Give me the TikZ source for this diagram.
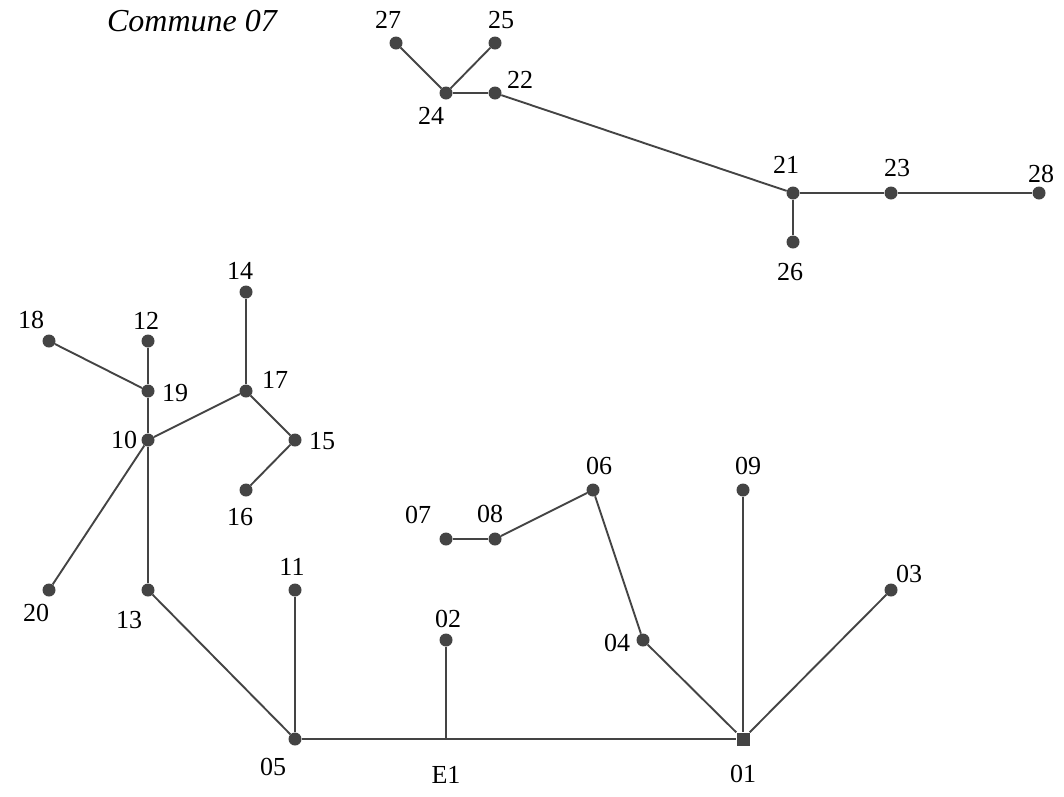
\documentclass[tikz,border=0pt]{standalone}
\usepackage{fontspec}
\setmainfont{Liberation Serif}
\definecolor{gr}{HTML}{444444}
\begin{document}
\begin{tikzpicture}[x=1pt,y=-1pt,
  dot/.style={circle,fill=gr,inner sep=0pt,minimum size=13pt},
  sq/.style={rectangle,fill=gr,inner sep=0pt,minimum size=13pt},
  lab/.style={font=\fontsize{26}{30}\selectfont,inner sep=0pt},
  edge/.style={draw=gr,line width=1.9pt}]
\useasboundingbox (0,0) rectangle (1064,796);
% nodes
\node[dot] (n27) at (396,43) {};
\node[dot] (n25) at (495,43) {};
\node[dot] (n24) at (446,93) {};
\node[dot] (n22) at (495,93) {};
\node[dot] (n21) at (793,193) {};
\node[dot] (n23) at (891,193) {};
\node[dot] (n28) at (1039,193) {};
\node[dot] (n26) at (793,242) {};
\node[dot] (n14) at (246,292) {};
\node[dot] (n18) at (49,341) {};
\node[dot] (n12) at (148,341) {};
\node[dot] (n19) at (148,391) {};
\node[dot] (n17) at (246,391) {};
\node[dot] (n10) at (148,440) {};
\node[dot] (n15) at (295,440) {};
\node[dot] (n16) at (246,490) {};
\node[dot] (n07) at (446,539) {};
\node[dot] (n08) at (495,539) {};
\node[dot] (n06) at (593,490) {};
\node[dot] (n09) at (743,490) {};
\node[dot] (n03) at (891,590) {};
\node[dot] (n11) at (295,590) {};
\node[dot] (n13) at (148,590) {};
\node[dot] (n20) at (49,590) {};
\node[dot] (n02) at (446,640) {};
\node[dot] (n04) at (643,640) {};
\node[dot] (n05) at (295,739) {};
\coordinate (e1) at (446,739);
\node[sq] (n01) at (743,739) {};
% edges
\draw[edge] (n27) -- (n24);
\draw[edge] (n25) -- (n24);
\draw[edge] (n24) -- (n22);
\draw[edge] (n22) -- (n21);
\draw[edge] (n21) -- (n23);
\draw[edge] (n23) -- (n28);
\draw[edge] (n21) -- (n26);
\draw[edge] (n18) -- (n19);
\draw[edge] (n12) -- (n19);
\draw[edge] (n19) -- (n10);
\draw[edge] (n10) -- (n17);
\draw[edge] (n17) -- (n14);
\draw[edge] (n17) -- (n15);
\draw[edge] (n15) -- (n16);
\draw[edge] (n10) -- (n20);
\draw[edge] (n10) -- (n13);
\draw[edge] (n13) -- (n05);
\draw[edge] (n05) -- (n11);
\draw[edge] (n05) -- (e1);
\draw[edge] (e1) -- (n02);
\draw[edge] (e1) -- (n01);
\draw[edge] (n07) -- (n08);
\draw[edge] (n08) -- (n06);
\draw[edge] (n06) -- (n04);
\draw[edge] (n04) -- (n01);
\draw[edge] (n09) -- (n01);
\draw[edge] (n03) -- (n01);
% labels
\node[lab] (l27) at (388,20) {27};
\node[lab] (l25) at (501,20) {25};
\node[lab] (l22) at (520,80) {22};
\node[lab] (l24) at (431,116) {24};
\node[lab] (l21) at (786,165) {21};
\node[lab] (l23) at (897,168) {23};
\node[lab] (l28) at (1041,174) {28};
\node[lab] (l26) at (790,272) {26};
\node[lab] (l14) at (240,271) {14};
\node[lab] (l18) at (31,320) {18};
\node[lab] (l12) at (146,321) {12};
\node[lab] (l19) at (175,393) {19};
\node[lab] (l17) at (275,380) {17};
\node[lab] (l10) at (124,440) {10};
\node[lab] (l15) at (322,441) {15};
\node[lab] (l16) at (240,517) {16};
\node[lab] (l07) at (418,515) {07};
\node[lab] (l08) at (490,514) {08};
\node[lab] (l06) at (599,466) {06};
\node[lab] (l09) at (748,466) {09};
\node[lab] (l03) at (909,574) {03};
\node[lab] (l11) at (292,567) {11};
\node[lab] (l02) at (448,619) {02};
\node[lab] (l04) at (617,643) {04};
\node[lab] (l13) at (129,620) {13};
\node[lab] (l20) at (36,613) {20};
\node[lab] (l05) at (273,767) {05};
\node[lab] (le1) at (446,775) {E1};
\node[lab] (l01) at (743,774) {01};
\node[lab,font=\fontsize{32}{36}\selectfont\itshape] (title) at (192,21) {Commune 07};
\end{tikzpicture}
\end{document}
